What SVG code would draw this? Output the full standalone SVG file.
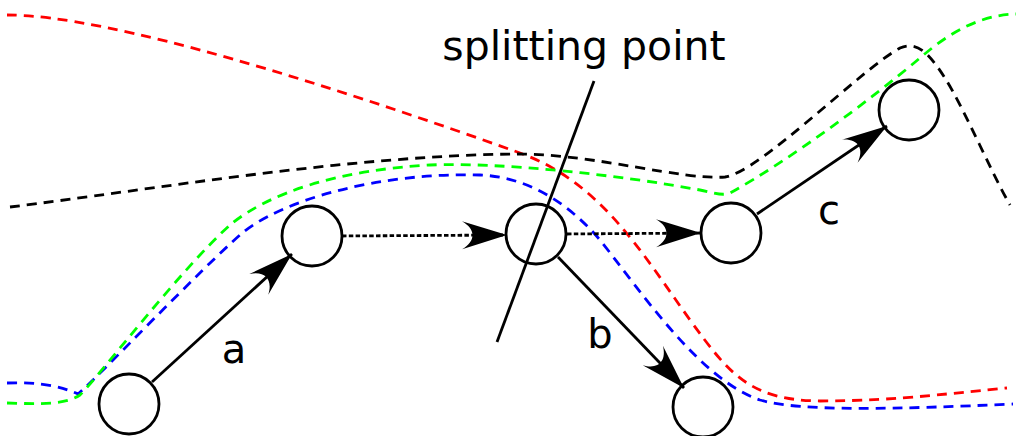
<svg xmlns="http://www.w3.org/2000/svg" width="1016" height="436" viewBox="0 0 1016 436">
<style>
.node{fill:none;stroke:#000;stroke-width:2.8}
.edge{fill:none;stroke:#000;stroke-width:2.8}
.dotted{stroke-dasharray:4.5,2.3}
.path{fill:none;stroke-width:2.8;stroke-dasharray:10,7}
.lbl{font-family:"DejaVu Sans",sans-serif;font-size:40px;fill:#000}
</style>
<defs>
<marker id="arr" markerUnits="userSpaceOnUse" orient="auto" refX="0" refY="0" markerWidth="60" markerHeight="40" viewBox="-50 -20 60 40" overflow="visible">
<path d="M0,0 L-45,-14 C-31,-6 -31,6 -45,14 Z" fill="#000" stroke="none"/>
</marker>
</defs>
<g id="trajectories">
<path class="path" stroke="#ff0000" d="M7,15 C110,15 330,85 520,153 C600,182 640,250 690,320 C730,375 750,400 820,401 C900,401 960,392 1007,388"/>
<path class="path" stroke="#0000ff" d="M7,383 C40,382 60,386 78,394 C95,380 200,270 240,235 C280,200 380,172 480,175 C530,177 570,205 600,240 C640,290 700,380 760,400 C800,412 900,409 1013,404"/>
<path class="path" stroke="#00ff00" d="M7,403 C40,404 65,405 80,395 C100,375 180,270 230,225 C270,192 340,170 430,165 C500,162 620,175 700,190 C715,193 722,196 730,193 C790,160 870,100 920,58 C950,32 980,15 1016,14"/>
<path class="path" stroke="#000000" d="M10,207 C150,190 350,155 520,154 C600,155 680,180 725,177 C760,172 860,70 900,48 C918,40 930,55 945,78 C965,110 990,170 1010,205"/>
</g>
<g id="connectors">
<line class="edge" x1="152" y1="382" x2="292" y2="254" marker-end="url(#arr)"/>
<line class="edge dotted" x1="342" y1="236" x2="507" y2="235" marker-end="url(#arr)"/>
<line class="edge dotted" x1="567" y1="234" x2="701" y2="233" marker-end="url(#arr)"/>
<line class="edge" x1="558" y1="257" x2="684" y2="388" marker-end="url(#arr)"/>
<line class="edge" x1="757" y1="214" x2="887" y2="126" marker-end="url(#arr)"/>
</g>
<g id="node-a"><circle class="node" cx="129" cy="404" r="30"/></g>
<g id="node-b"><circle class="node" cx="312" cy="236" r="30"/></g>
<g id="node-split"><circle class="node" cx="536" cy="234" r="30"/></g>
<g id="node-c"><circle class="node" cx="731" cy="233" r="30"/></g>
<g id="node-e"><circle class="node" cx="909" cy="110" r="30"/></g>
<g id="node-f"><circle class="node" cx="703" cy="407" r="30"/></g>
<g id="splitting-point">
<line class="edge" x1="594" y1="81" x2="497" y2="342"/>
<text class="lbl" x="584" y="60" text-anchor="middle" style="font-size:41px">splitting point</text>
</g>
<g id="labels">
<text class="lbl" x="234" y="363" text-anchor="middle">a</text>
<text class="lbl" x="600" y="348" text-anchor="middle">b</text>
<text class="lbl" x="829" y="224" text-anchor="middle">c</text>
</g>
</svg>
